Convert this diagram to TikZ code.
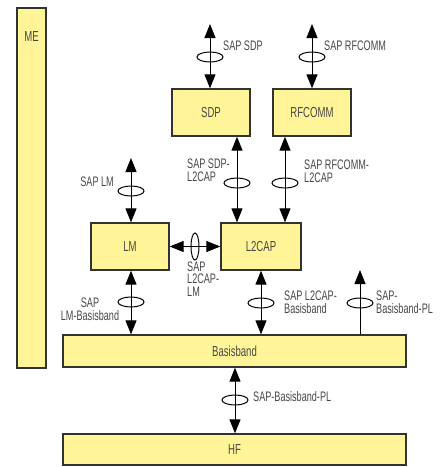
\documentclass[tikz,border=0pt]{standalone}
\usepackage{fontspec}
\setmainfont{Liberation Sans}[FakeStretch=0.66]
\usetikzlibrary{arrows.meta,shapes.geometric}
\definecolor{boxfill}{RGB}{255,245,152}
\definecolor{boxline}{RGB}{50,50,50}
\definecolor{txt}{RGB}{70,70,70}
\begin{document}
\begin{tikzpicture}[x=1pt,y=-1pt,
  box/.style={draw=boxline,fill=boxfill,line width=1.3pt,text=txt,inner sep=0pt,
    font=\fontsize{14.5}{12.5}\selectfont},
  lbl/.style={text=txt,inner sep=0pt,font=\fontsize{13.8}{12.6}\selectfont},
  conn/.style={line width=0.9pt,{Triangle[length=14pt,width=11pt]}-{Triangle[length=14pt,width=11pt]}},
  upconn/.style={line width=0.9pt,-{Triangle[length=14pt,width=11pt]}},
  ring/.style={draw,line width=1pt,ellipse,minimum width=26pt,minimum height=10pt,inner sep=0pt},
  vring/.style={draw,line width=1pt,ellipse,minimum width=8pt,minimum height=27pt,inner sep=0pt}]
\useasboundingbox (0,0) rectangle (442,467);
% boxes
\node[box,minimum width=29pt,minimum height=360pt,
  label={[box,draw=none,fill=none,anchor=center,yshift=-29pt]north:ME}] (me) at (31.5,188) {};
\node[box,minimum width=78pt,minimum height=47pt] (sdp) at (211,112.5) {SDP};
\node[box,minimum width=78pt,minimum height=47pt] (rfcomm) at (312,112.5) {RFCOMM};
\node[box,minimum width=78pt,minimum height=47pt] (lm) at (130,246.5) {LM};
\node[box,minimum width=80pt,minimum height=47pt] (l2cap) at (261,246.5) {L2CAP};
\node[box,minimum width=343pt,minimum height=32pt] (basis) at (234.5,351) {Basisband};
\node[box,minimum width=343pt,minimum height=31pt] (hf) at (234.5,449.5) {HF};
% free ends
\coordinate (sdptop) at (210,24);
\coordinate (rftop) at (312,24);
\coordinate (lmtop) at (131,158);
\coordinate (pltop) at (360,270);
% connectors
\draw[conn] (sdptop) -- (sdptop |- sdp.north);
\draw[conn] (rftop) -- (rftop |- rfcomm.north);
\draw[conn] ([xshift=26pt]sdp.south) -- ([xshift=-24pt]l2cap.north);
\draw[conn] ([xshift=-27pt]rfcomm.south) -- ([xshift=24pt]l2cap.north);
\draw[conn] (lmtop) -- (lmtop |- lm.north);
\draw[conn] (lm.east) -- (l2cap.west);
\draw[conn] ([xshift=1pt]lm.south) -- ([xshift=1pt]lm.south |- basis.north);
\draw[conn] (l2cap.south) -- (l2cap.south |- basis.north);
\draw[upconn] (pltop |- basis.north) -- (pltop);
\draw[conn] ([xshift=0.5pt]basis.south) -- ([xshift=0.5pt]hf.north);
% rings
\node[ring] (r1) at (210,57) {};
\node[ring] (r2) at (312,57) {};
\node[ring] (r3) at (237,183) {};
\node[ring] (r4) at (285,183) {};
\node[ring] (r5) at (131,191) {};
\node[vring] (r6) at (195,246.5) {};
\node[ring] (r7) at (131,302) {};
\node[ring] (r8) at (261,303) {};
\node[ring] (r9) at (360,303) {};
\node[ring] (r10) at (235,400) {};
% labels
\node[lbl,anchor=west] (l1) at (223,46) {SAP SDP};
\node[lbl,anchor=west] (l2) at (324,46) {SAP RFCOMM};
\node[lbl,anchor=west,align=left] (l3) at (187,170) {SAP SDP-\\L2CAP};
\node[lbl,anchor=west,align=left] (l4) at (304,171) {SAP RFCOMM-\\L2CAP};
\node[lbl,anchor=east] (l5) at (114,182) {SAP LM};
\node[lbl,anchor=west,align=left] (l6) at (187,279) {SAP\\L2CAP-\\LM};
\node[lbl,align=center] (l7) at (90,309) {SAP\\LM-Basisband};
\node[lbl,anchor=west,align=left] (l8) at (284,302) {SAP L2CAP-\\Basisband};
\node[lbl,anchor=west,align=left] (l9) at (376,302) {SAP-\\Basisband-PL};
\node[lbl,anchor=west] (l10) at (253,397) {SAP-Basisband-PL};
\end{tikzpicture}
\end{document}
